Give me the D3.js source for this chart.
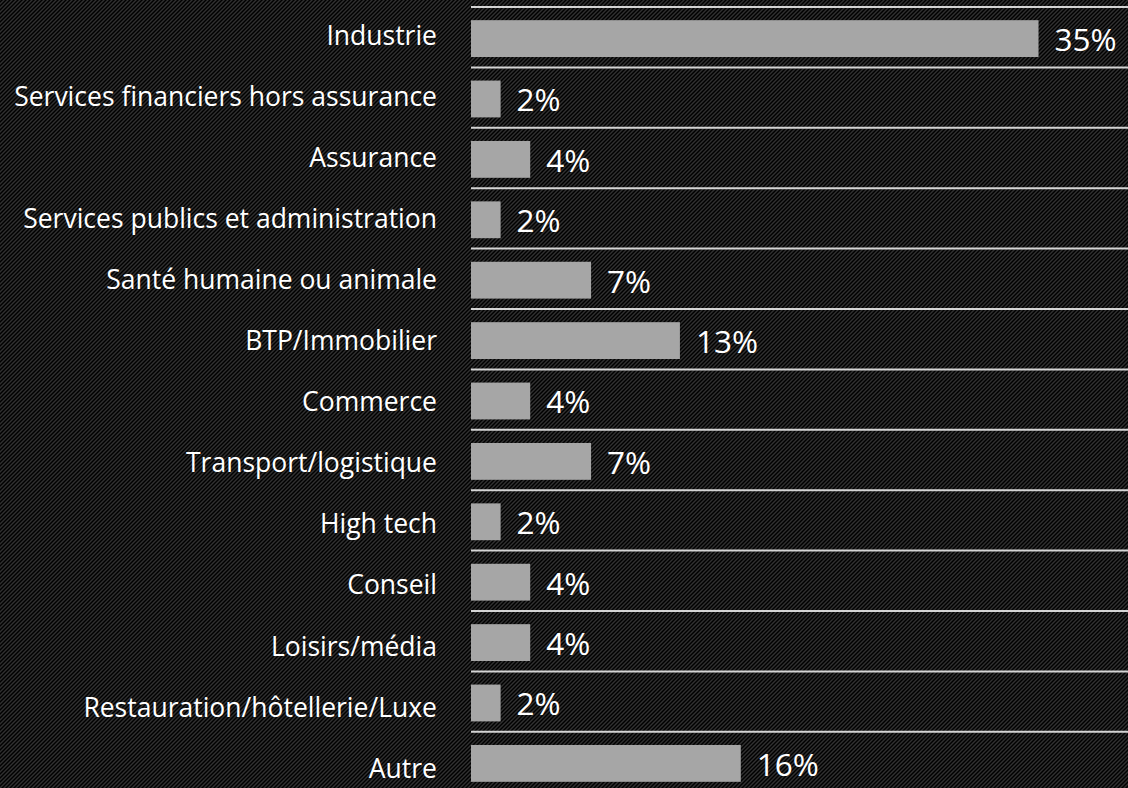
<!DOCTYPE html>
<html>
<head>
<meta charset="utf-8">
<script src="https://cdn.jsdelivr.net/npm/d3@7/dist/d3.min.js"></script>
<style>
  html, body { margin: 0; padding: 0; background: #000; }
  svg { display: block; }
</style>
</head>
<body>
<svg id="chart" width="1128" height="788"></svg>
<script>
// Sector breakdown of respondents (share in %)
const categories = [
  "Industrie",
  "Services financiers hors assurance",
  "Assurance",
  "Services publics et administration",
  "Santé humaine ou animale",
  "BTP/Immobilier",
  "Commerce",
  "Transport/logistique",
  "High tech",
  "Conseil",
  "Loisirs/média",
  "Restauration/hôtellerie/Luxe",
  "Autre"
];
const shares = [34.5, 1.8, 3.6, 1.8, 7.3, 12.7, 3.6, 7.3, 1.8, 3.6, 3.6, 1.8, 16.4];

const W = 1128, H = 788;
const svg = d3.select("#chart");

// Dark diagonal texture behind everything
const defs = svg.append("defs");
const pat = defs.append("pattern")
  .attr("id", "bgTexture")
  .attr("patternUnits", "userSpaceOnUse")
  .attr("width", 4).attr("height", 4);
pat.append("rect").attr("width", 4).attr("height", 4).attr("fill", "#000");
pat.append("path")
  .attr("d", "M-1,1 l2,-2 M0,4 l4,-4 M3,5 l2,-2")
  .attr("stroke", "#313131")
  .attr("stroke-width", 1.4);
svg.append("rect").attr("width", W).attr("height", H).attr("fill", "url(#bgTexture)");

const x = d3.scaleLinear().domain([0, 40]).range([471, 1129]);
// bar rows
const y = d3.scaleBand().domain(categories).range([7, 7 + 60.4 * categories.length]).padding(0);
// category label rows (slightly looser spacing than the bars)
const yLabel = d3.scalePoint().domain(categories).range([44.5, 44.5 + 61.1 * (categories.length - 1)]);

const barOffset = y.bandwidth() * 0.218;
const barHeight = y.bandwidth() * 0.61;

const rows = svg.append("g").selectAll("g.row")
  .data(categories.map((c, i) => ({ cat: c, v: shares[i] })))
  .join("g").attr("class", "row");

// separator line on top of each row
rows.append("line")
  .attr("x1", x(0)).attr("x2", W)
  .attr("y1", d => y(d.cat)).attr("y2", d => y(d.cat))
  .attr("stroke", "#d4d4d4").attr("stroke-width", 2);

rows.append("rect")
  .attr("x", x(0))
  .attr("y", d => y(d.cat) + barOffset)
  .attr("width", d => x(d.v) - x(0))
  .attr("height", barHeight)
  .attr("fill", "#a6a6a6");

const barMid = d => y(d.cat) + barOffset + barHeight / 2;

rows.append("text")
  .attr("x", 437)
  .attr("y", d => yLabel(d.cat))
  .attr("text-anchor", "end")
  .attr("fill", "#ffffff")
  .style("font-family", "'Open Sans', sans-serif")
  .style("font-size", "26.5px")
  .text(d => d.cat);

rows.append("text")
  .attr("x", d => x(d.v) + 16)
  .attr("y", d => barMid(d) + 12.5)
  .attr("fill", "#ffffff")
  .style("font-family", "'Open Sans', sans-serif")
  .style("font-size", "31.5px")
  .text(d => Math.round(d.v) + "%");
</script>
</body>
</html>
